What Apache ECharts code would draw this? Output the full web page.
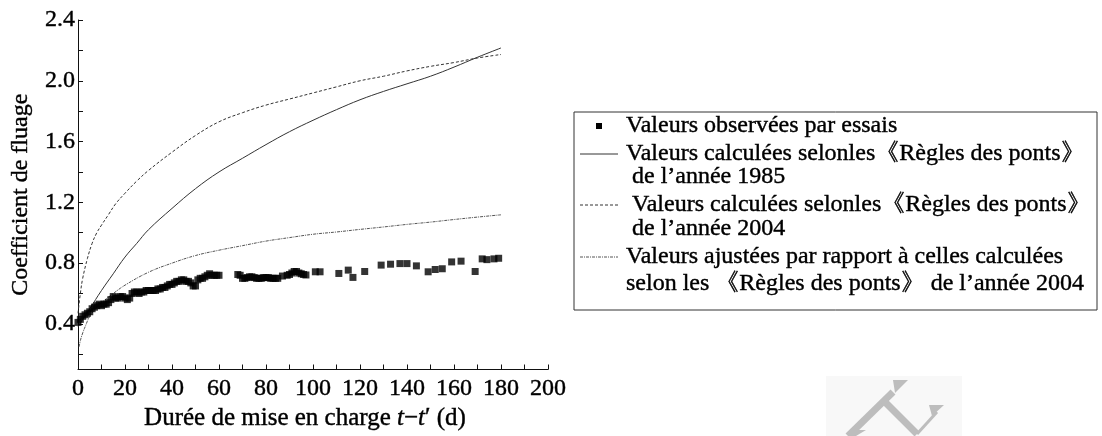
<!DOCTYPE html>
<html>
<head>
<meta charset="utf-8">
<script src="https://cdn.jsdelivr.net/npm/echarts@6/dist/echarts.min.js"></script>
<style>
  html, body { margin: 0; padding: 0; background: #fff; }
  #chart { width: 1102px; height: 436px; }
</style>
</head>
<body>
<div id="chart"></div>
<script>
// Observed creep coefficients (test measurements), age under load in days
const obsT = [0, 1, 2, 3, 4, 5, 6, 7, 8, 9, 10, 11, 12, 13, 14, 15, 16, 17, 18, 19, 20,
  21, 22, 23, 24, 25, 26, 27, 28, 29, 30, 31, 32, 33, 34, 35, 36, 37, 38, 39, 40,
  41, 42, 43, 44, 45, 46, 47, 48, 49, 50, 51, 52, 53, 54, 55, 56, 57, 58, 59, 60,
  68, 69, 70, 71, 72, 73, 74, 75, 76, 77, 78, 79, 80, 81, 82, 83, 84, 85,
  87, 89, 90, 91, 92, 93, 94, 95, 96, 97, 101, 103, 111, 115, 117, 122,
  129, 133, 137, 140, 144, 149, 152, 155, 159, 163, 169, 172, 174, 177, 179];
const obsV = [0.41, 0.43, 0.45, 0.46, 0.47, 0.48, 0.50, 0.51, 0.52, 0.53, 0.52, 0.53, 0.53, 0.54, 0.56, 0.58, 0.57, 0.57, 0.58, 0.58, 0.57,
  0.56, 0.57, 0.60, 0.61, 0.61, 0.60, 0.61, 0.61, 0.62, 0.62, 0.62, 0.62, 0.62, 0.63, 0.63, 0.64, 0.64, 0.65, 0.66, 0.66,
  0.67, 0.68, 0.68, 0.69, 0.69, 0.68, 0.68, 0.67, 0.65, 0.65, 0.69, 0.70, 0.70, 0.71, 0.72, 0.73, 0.72, 0.72, 0.72, 0.72,
  0.725, 0.72, 0.70, 0.70, 0.705, 0.71, 0.71, 0.705, 0.70, 0.70, 0.70, 0.705, 0.705, 0.705, 0.70, 0.70, 0.70, 0.70,
  0.715, 0.72, 0.725, 0.735, 0.745, 0.745, 0.735, 0.73, 0.725, 0.722, 0.743, 0.743, 0.732, 0.754, 0.706, 0.745,
  0.787, 0.793, 0.797, 0.797, 0.782, 0.743, 0.758, 0.763, 0.808, 0.813, 0.745, 0.828, 0.823, 0.828, 0.832];

// Bridge code 1985 calculation
const t1985 = [0, 2, 5, 10, 15, 20, 25, 30, 40, 50, 60, 70, 80, 90, 100, 110, 120, 130, 140, 150, 160, 170, 180];
const v1985 = [0.38, 0.43, 0.50, 0.62, 0.73, 0.84, 0.93, 1.02, 1.16, 1.29, 1.40, 1.49, 1.58, 1.665, 1.74, 1.81, 1.875, 1.93, 1.98, 2.03, 2.09, 2.155, 2.216];

// Bridge code 2004 calculation
const t2004 = [0, 1, 2, 4, 6, 8, 10, 13, 16, 20, 25, 30, 40, 50, 60, 70, 80, 90, 100, 110, 120, 130, 140, 150, 160, 170, 180];
const v2004 = [0.47, 0.60, 0.70, 0.83, 0.93, 1.00, 1.05, 1.12, 1.19, 1.26, 1.34, 1.41, 1.53, 1.64, 1.73, 1.79, 1.84, 1.88, 1.92, 1.96, 2.00, 2.03, 2.065, 2.095, 2.12, 2.15, 2.173];

// Adjusted values relative to the 2004 code
const tFit = [0.5, 1, 2, 3, 5, 8, 10, 15, 20, 30, 40, 50, 60, 70, 80, 90, 100, 110, 120, 130, 140, 150, 160, 170, 180];
const vFit = [0.25, 0.29, 0.34, 0.38, 0.45, 0.51, 0.54, 0.60, 0.655, 0.74, 0.80, 0.85, 0.885, 0.915, 0.945, 0.968, 0.99, 1.005, 1.022, 1.038, 1.055, 1.07, 1.087, 1.103, 1.118];

const yTicks = [0.2, 0.4, 0.6, 0.8, 1.0, 1.2, 1.4, 1.6, 1.8, 2.0, 2.2, 2.4];
const yLabels = [0.4, 0.8, 1.2, 1.6, 2.0, 2.4];

const seriesNames = [
  'Valeurs observées par essais',
  'Valeurs calculées selonles《Règles des ponts》 de l’année 1985',
  'Valeurs calculées selonles《Règles des ponts》 de l’année 2004',
  'Valeurs ajustées par rapport à celles calculées selon les 《Règles des ponts》 de l’année 2004'
];
const legendLines = [
  ['Valeurs observées par essais'],
  ['Valeurs calculées selonles《Règles des ponts》', ' de l’année 1985'],
  [' Valeurs calculées selonles《Règles des ponts》', ' de l’année 2004'],
  ['Valeurs ajustées par rapport à celles calculées', 'selon les 《Règles des ponts》 de l’année 2004']
];

const FONT = '"Liberation Serif", "Times New Roman", serif';
const INK = '#000';
// thin outline in the text colour gives the print-like weight of the lettering
const HEAVY = { textBorderColor: INK, textBorderWidth: 0.4 };

const pairs = (xs, ys) => xs.map((x, i) => [x, ys[i]]);

// Legend drawn as a framed block of graphic elements
const LEG = { x: 574, y: 112, w: 523, h: 198, iconX0: 580, iconX1: 618, textX: 626 };
const legendRows = [[126], [154, 177], [205, 229], [257, 284]];
const iconStyles = [
  null,
  { stroke: '#333', lineWidth: 1 },
  { stroke: '#333', lineWidth: 1, lineDash: [3, 2] },
  { stroke: '#555', lineWidth: 1, lineDash: [3, 1, 1, 1] }
];
const legendGraphic = [{
  type: 'rect',
  shape: { x: LEG.x, y: LEG.y, width: LEG.w, height: LEG.h },
  style: { fill: '#fff', stroke: '#333', lineWidth: 1 }
}];
legendLines.forEach((lines, k) => {
  const cy = legendRows[k][0];
  if (k === 0) {
    legendGraphic.push({
      type: 'rect',
      shape: { x: (LEG.iconX0 + LEG.iconX1) / 2 - 3, y: cy - 3, width: 6, height: 6 },
      style: { fill: '#000' }
    });
  } else {
    legendGraphic.push({
      type: 'line',
      shape: { x1: LEG.iconX0, y1: cy, x2: LEG.iconX1, y2: cy },
      style: iconStyles[k]
    });
  }
  lines.forEach((txt, j) => {
    legendGraphic.push({
      type: 'text',
      x: LEG.textX,
      y: legendRows[k][j],
      style: {
        text: txt, fill: INK, font: '24px ' + FONT,
        textAlign: 'left', textVerticalAlign: 'middle',
        stroke: INK, lineWidth: 0.4
      }
    });
  });
});

// Faint publisher mark in the lower right
const markColor = '#bdbdbd';
const markGraphic = [
  { type: 'rect', shape: { x: 826, y: 376, width: 136, height: 60 }, style: { fill: '#f8f8f8' } },
  { type: 'polyline', shape: { points: [[848, 436], [893, 392]] }, style: { stroke: markColor, lineWidth: 7 } },
  { type: 'polygon', shape: { points: [[893, 380], [908, 380], [895, 393]] }, style: { fill: markColor } },
  { type: 'polyline', shape: { points: [[884, 401], [917, 434]] }, style: { stroke: markColor, lineWidth: 7 } },
  { type: 'polyline', shape: { points: [[917, 434], [937, 412]] }, style: { stroke: markColor, lineWidth: 3 } },
  { type: 'polygon', shape: { points: [[929, 405], [944, 405], [932, 416]] }, style: { fill: markColor } },
  { type: 'polygon', shape: { points: [[852, 430], [866, 430], [856, 436], [850, 436]] }, style: { fill: markColor } }
];

const chart = echarts.init(document.getElementById('chart'), null, { renderer: 'canvas' });
chart.setOption({
  backgroundColor: '#fff',
  animation: false,
  grid: { left: 78, top: 20, width: 470, height: 354, containLabel: false },
  xAxis: {
    type: 'value', min: 0, max: 200, interval: 10,
    name: 'Durée de mise en charge {i|t}−{i|t}′ (d)',
    nameLocation: 'middle', nameGap: 33,
    nameTextStyle: Object.assign({
      color: INK, fontFamily: FONT, fontSize: 25, padding: [0, 16, 0, 0],
      rich: { i: Object.assign({ fontStyle: 'italic', fontFamily: FONT, fontSize: 25, color: INK }, HEAVY) }
    }, HEAVY),
    axisLine: { onZero: false, lineStyle: { color: '#111', width: 1 } },
    axisTick: { inside: true, length: 5, lineStyle: { color: '#111' } },
    axisLabel: Object.assign({
      color: INK, fontFamily: FONT, fontSize: 24, margin: 7,
      formatter: v => (v % 20 === 0 ? String(v) : '')
    }, HEAVY),
    splitLine: { show: false }
  },
  yAxis: {
    type: 'value', min: 0.1, max: 2.4,
    name: 'Coefficient de fluage',
    nameLocation: 'middle', nameGap: 45,
    nameTextStyle: Object.assign({ color: INK, fontFamily: FONT, fontSize: 24 }, HEAVY),
    axisLine: { show: true, onZero: false, lineStyle: { color: '#111', width: 1 } },
    axisTick: { show: true, inside: true, length: 5, customValues: yTicks, lineStyle: { color: '#111' } },
    axisLabel: Object.assign({
      color: INK, fontFamily: FONT, fontSize: 24, margin: 3,
      customValues: yLabels, formatter: v => v.toFixed(1)
    }, HEAVY),
    splitLine: { show: false }
  },
  series: [
    {
      name: seriesNames[1], type: 'line', data: pairs(t1985, v1985),
      smooth: 0.4, showSymbol: false, symbol: 'none',
      lineStyle: { color: '#333', width: 1 }, z: 2
    },
    {
      name: seriesNames[2], type: 'line', data: pairs(t2004, v2004),
      smooth: 0.4, showSymbol: false, symbol: 'none',
      lineStyle: { color: '#333', width: 1, type: [3, 2] }, z: 2
    },
    {
      name: seriesNames[3], type: 'line', data: pairs(tFit, vFit),
      smooth: 0.4, showSymbol: false, symbol: 'none',
      lineStyle: { color: '#555', width: 1, type: [3, 1, 1, 1] }, z: 2
    },
    {
      name: seriesNames[0], type: 'scatter', data: pairs(obsT, obsV),
      symbol: 'rect', symbolSize: 7, itemStyle: { color: '#000' }, z: 3
    }
  ],
  graphic: markGraphic.concat(legendGraphic)
});
</script>
</body>
</html>
